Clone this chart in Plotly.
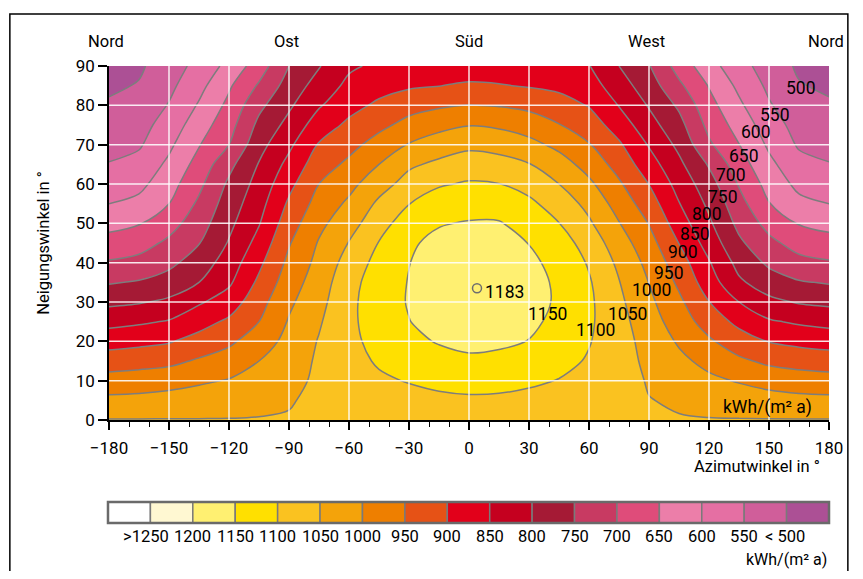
import plotly.graph_objects as go

# ---------------- data ----------------
azimuth = [-180, -165, -150, -135, -120, -105, -90, -75, -60, -45, -30, -15,
           0, 15, 30, 45, 60, 75, 90, 105, 120, 135, 150, 165, 180]
tilt = [0, 5, 10, 15, 20, 25, 30, 35, 40, 45, 50, 55, 60, 65, 70, 75, 80, 85, 90]

# annual irradiation kWh/(m² a), one list per azimuth column (tilt 0..90)
az_m180 = [1052, 1012, 970, 925, 880, 835, 789, 746, 705, 669, 634, 600, 576, 552, 536, 521, 506, 492, 484]
az_m165 = [1052, 1014, 974, 931, 887, 843, 796, 754, 715, 680, 647, 613, 587, 566, 544, 531, 517, 503, 493]
az_m150 = [1052, 1020, 980, 938, 896, 854, 809, 771, 738, 710, 680, 650, 630, 610, 590, 572, 553, 538, 525]
az_m135 = [1052, 1023, 993, 956, 918, 881, 844, 800, 774, 748, 728, 709, 688, 668, 647, 626, 605, 585, 566]
az_m120 = [1052, 1028, 1003, 972, 941, 909, 873, 842, 823, 804, 788, 774, 759, 736, 700, 681, 662, 643, 615]
az_m105 = [1052, 1040, 1018, 1000, 975, 950, 932, 910, 889, 867, 847, 832, 818, 803, 783, 762, 738, 706, 675]
az_m90 = [1052, 1048, 1037, 1026, 1015, 1004, 991, 976, 962, 946, 927, 908, 886, 864, 840, 815, 792, 771, 750]
az_m75 = [1052, 1056, 1058, 1057, 1053, 1045, 1035, 1025, 1014, 1004, 988, 969, 950, 927, 904, 875, 845, 820, 797]
az_m60 = [1052, 1064, 1074, 1082, 1087, 1089, 1088, 1083, 1070, 1052, 1030, 1009, 985, 960, 935, 910, 884, 862, 842]
az_m45 = [1052, 1075, 1092, 1106, 1117, 1125, 1128, 1125, 1116, 1102, 1081, 1059, 1031, 1000, 969, 938, 909, 882, 860]
az_m30 = [1052, 1082, 1103, 1124, 1140, 1149, 1153, 1152, 1149, 1144, 1125, 1099, 1068, 1042, 1003, 965, 932, 893, 868]
az_m15 = [1052, 1088, 1114, 1136, 1153, 1165, 1172, 1174, 1170, 1161, 1147, 1124, 1095, 1060, 1025, 985, 943, 899, 873]
az_0 = [1052, 1091, 1121, 1143, 1160, 1172, 1180, 1182, 1178, 1169, 1153, 1132, 1105, 1074, 1039, 998, 951, 906, 875]
az_15 = [1052, 1090, 1118, 1140, 1157, 1170, 1178, 1180, 1177, 1167, 1153, 1130, 1101, 1068, 1032, 992, 947, 903, 874]
az_30 = [1052, 1085, 1109, 1131, 1149, 1160, 1166, 1165, 1159, 1149, 1133, 1110, 1083, 1052, 1015, 976, 938, 896, 871]
az_45 = [1052, 1079, 1098, 1116, 1129, 1138, 1144, 1143, 1137, 1123, 1101, 1078, 1050, 1022, 987, 952, 921, 888, 864]
az_60 = [1052, 1070, 1084, 1095, 1103, 1108, 1109, 1105, 1095, 1079, 1057, 1036, 1010, 981, 953, 925, 897, 873, 852]
az_75 = [1052, 1060, 1066, 1069, 1069, 1066, 1060, 1052, 1040, 1023, 1002, 980, 957, 931, 907, 877, 848, 822, 800]
az_90 = [1052, 1051, 1047, 1040, 1033, 1023, 1011, 999, 986, 969, 948, 924, 899, 872, 846, 819, 796, 774, 753]
az_105 = [1052, 1046, 1028, 1012, 994, 975, 960, 941, 923, 899, 874, 852, 832, 811, 788, 766, 742, 710, 680]
az_120 = [1052, 1036, 1011, 985, 957, 928, 901, 874, 854, 829, 808, 790, 771, 745, 708, 686, 667, 647, 619]
az_135 = [1052, 1028, 996, 959, 923, 887, 850, 808, 784, 759, 737, 718, 696, 673, 651, 630, 609, 589, 569]
az_150 = [1052, 1021, 981, 940, 898, 856, 812, 774, 741, 713, 683, 652, 632, 612, 592, 574, 555, 540, 526]
az_165 = [1052, 1014, 974, 931, 887, 843, 796, 754, 715, 680, 647, 613, 587, 566, 544, 531, 517, 503, 493]
az_180 = [1052, 1012, 970, 925, 880, 835, 789, 746, 705, 669, 634, 600, 576, 552, 536, 521, 506, 492, 484]

columns = [az_m180, az_m165, az_m150, az_m135, az_m120, az_m105, az_m90, az_m75,
           az_m60, az_m45, az_m30, az_m15, az_0, az_15, az_30, az_45, az_60,
           az_75, az_90, az_105, az_120, az_135, az_150, az_165, az_180]
z = [[col[i] for col in columns] for i in range(len(tilt))]

# contour levels and band colours (from lowest band "<500" to highest ">1250")
level_start, level_end, level_step = 500, 1250, 50
band_colors = ["#AC5095", "#D05E9A", "#E56FA3", "#EC7EA9", "#DF4C7A", "#C83A62",
               "#A51A35", "#C5001F", "#E2001A", "#E65216", "#EE7F00", "#F4A30A",
               "#FAC220", "#FFE000", "#FFF071", "#FFF8D2", "#FFFFFF"]
legend_labels = ["&gt;1250", "1200", "1150", "1100", "1050", "1000", "950", "900",
                 "850", "800", "750", "700", "650", "600", "550", "&lt; 500"]

# contour labels drawn on the right flank
label_text = ["500", "550", "600", "650", "700", "750", "800", "850", "900",
              "950", "1000", "1050", "1100", "1150"]
label_az = [166, 153, 143.5, 137.5, 131, 127, 119, 113, 107, 100, 91, 79, 63, 39]
label_tilt = [84.5, 77.5, 73.3, 67, 62.3, 56.6, 52.5, 47.4, 42.8, 37.3, 33, 27, 23, 27]

peak_az, peak_tilt, peak_value = 4, 33.5, 1183

x_ticks = [-180, -150, -120, -90, -60, -30, 0, 30, 60, 90, 120, 150, 180]
y_ticks = [0, 10, 20, 30, 40, 50, 60, 70, 80, 90]
dir_labels = ["Nord", "Ost", "Süd", "West", "Nord"]
dir_az = [-180, -90, 0, 90, 180]

# ---------------- figure ----------------
WIDE = "Roboto, Noto Sans, sans-serif"
NARROW = "Liberation Sans Narrow, Arial Narrow, Roboto, sans-serif"
n_c = len(band_colors) - 1
colorscale = [[k / n_c, c] for k, c in enumerate(band_colors)]

fig = go.Figure()
fig.add_trace(go.Contour(
    x=azimuth, y=tilt, z=z,
    autocontour=False,
    contours=dict(start=level_start, end=level_end, size=level_step,
                  coloring="fill", showlines=True),
    colorscale=colorscale, showscale=False,
    line=dict(color="#7d7d7d", width=1.5, smoothing=1.0),
    hoverinfo="skip"))

fig.add_trace(go.Scatter(
    x=[peak_az], y=[peak_tilt], mode="markers",
    marker=dict(symbol="circle-open", size=9, color="#6e6e6e",
                line=dict(width=1.5, color="#6e6e6e")),
    hoverinfo="skip", showlegend=False))

shapes = []
# white grid lines above the coloured field
for xv in x_ticks[1:-1]:
    shapes.append(dict(type="line", xref="x", yref="y", x0=xv, x1=xv, y0=0, y1=90,
                       line=dict(color="rgba(255,255,255,0.88)", width=1.5), layer="above"))
for yv in y_ticks[1:-1]:
    shapes.append(dict(type="line", xref="x", yref="y", x0=-180, x1=180, y0=yv, y1=yv,
                       line=dict(color="rgba(255,255,255,0.88)", width=1.5), layer="above"))

# horizontal legend bar
LX0, LX1, LY0, LY1 = -0.0014, 1.0, -0.291, -0.2316
legend_colors = band_colors[::-1]
nb = len(legend_colors)
bw = (LX1 - LX0) / nb
for k, c in enumerate(legend_colors):
    shapes.append(dict(type="rect", xref="paper", yref="paper",
                       x0=LX0 + k * bw, x1=LX0 + (k + 1) * bw, y0=LY0, y1=LY1,
                       fillcolor=c, line=dict(color="#7a7a7a", width=1.5)))
shapes.append(dict(type="rect", xref="paper", yref="paper", x0=LX0, x1=LX1, y0=LY0, y1=LY1,
                   line=dict(color="#6a6a6a", width=2.5)))
# outer frame
shapes.append(dict(type="rect", xref="paper", yref="paper",
                   x0=-0.1377, x1=1.0262, y0=-0.52, y1=1.1469,
                   line=dict(color="black", width=1.5)))

annotations = []
for t, xa, ya in zip(label_text, label_az, label_tilt):
    annotations.append(dict(x=xa, y=ya, xref="x", yref="y", text=t, showarrow=False,
                            xanchor="center", yanchor="middle",
                            font=dict(family=NARROW, size=17.5, color="black")))
annotations.append(dict(x=peak_az + 3, y=peak_tilt - 1, xref="x", yref="y",
                        text=str(peak_value), xanchor="left", yanchor="middle", showarrow=False,
                        font=dict(family=NARROW, size=17.5, color="black")))
for t, xa in zip(dir_labels, dir_az):
    annotations.append(dict(x=xa, y=1.069, xref="x", yref="paper", text=t, showarrow=False,
                            xanchor="center", yanchor="middle",
                            xshift=(0 if xa == 0 else -3),
                            font=dict(family=WIDE, size=16.5, color="black")))
for k, t in enumerate(legend_labels):
    annotations.append(dict(x=LX0 + (k + 1) * bw, y=-0.3305, xref="paper", yref="paper",
                            text=t, showarrow=False, xanchor="center", yanchor="middle",
                            xshift=(-4 if k == 0 else (-2 if k == len(legend_labels) - 1 else 0)),
                            font=dict(family=NARROW, size=16.5, color="black")))
annotations.append(dict(x=1.0, y=-0.4266, xref="paper", yref="paper", text="kWh/(m² a)",
                        xanchor="right", yanchor="bottom", showarrow=False,
                        font=dict(family=NARROW, size=16, color="black")))
annotations.append(dict(x=0.99, y=-0.13, xref="paper", yref="paper", text="Azimutwinkel in °",
                        xanchor="right", yanchor="middle", showarrow=False,
                        font=dict(family=WIDE, size=16.5, color="black")))
annotations.append(dict(x=180, y=3.2, xref="x", yref="y", text="kWh/(m² a)",
                        xanchor="right", yanchor="middle", xshift=-15, showarrow=False,
                        font=dict(family=NARROW, size=17.5, color="black")))

fig.update_layout(
    width=847, height=563,
    margin=dict(l=101, r=20, t=58, b=151),
    paper_bgcolor="white", plot_bgcolor="white",
    showlegend=False,
    font=dict(family=WIDE, size=17, color="black"),
    shapes=shapes, annotations=annotations,
    xaxis=dict(range=[-180, 180], tickmode="array", tickvals=x_ticks,
               ticktext=[str(v).replace("-", "\u2212") for v in x_ticks],
               ticks="outside", ticklen=8, tickwidth=1.5, tickcolor="black",
               showline=True, linecolor="black", linewidth=2, showgrid=False,
               zeroline=False, ticklabelstandoff=4,
               minor=dict(tickmode="linear", tick0=-180, dtick=10, ticks="outside",
                          ticklen=5, tickwidth=1, tickcolor="black", showgrid=False),
               tickfont=dict(family=WIDE, size=17, color="black")),
    yaxis=dict(range=[0, 90], tickmode="array", tickvals=y_ticks,
               ticks="outside", ticklen=9, tickwidth=1.5, tickcolor="black",
               showline=True, linecolor="black", linewidth=1.5, showgrid=False,
               zeroline=False,
               title=dict(text="Neigungswinkel in °", standoff=22,
                          font=dict(family=WIDE, size=16.5, color="black")),
               tickfont=dict(family=WIDE, size=17, color="black")),
)

fig.write_html("out.html")
